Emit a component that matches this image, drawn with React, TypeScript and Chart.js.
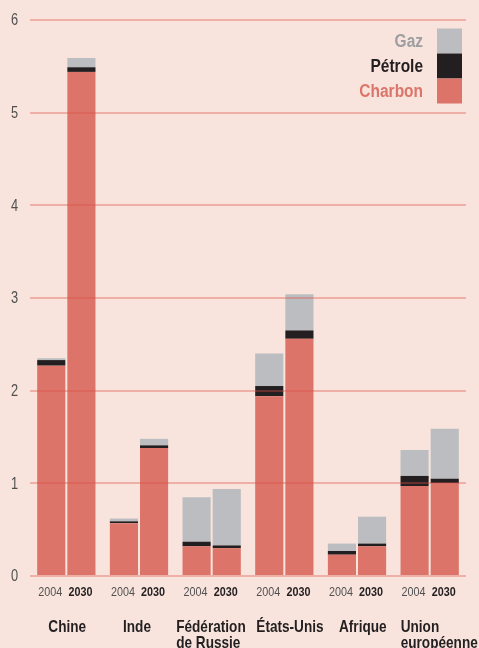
import React, { useEffect, useRef } from "react";
import { Chart, registerables } from "chart.js";

Chart.register(...registerables);

// ---- data ----
const categories: string[][] = [
  ["Chine"],
  ["Inde"],
  ["Fédération", "de Russie"],
  ["États-Unis"],
  ["Afrique"],
  ["Union", "européenne"],
];
const years = ["2004", "2030"];
const charbon2004 = [2.27, 0.57, 0.32, 1.94, 0.23, 0.97];
const petrole2004 = [0.06, 0.02, 0.05, 0.11, 0.04, 0.11];
const gaz2004 = [0.02, 0.03, 0.48, 0.35, 0.08, 0.28];
const charbon2030 = [5.44, 1.38, 0.3, 2.56, 0.32, 1.0];
const petrole2030 = [0.05, 0.03, 0.03, 0.09, 0.03, 0.05];
const gaz2030 = [0.1, 0.07, 0.61, 0.39, 0.29, 0.54];
const legendLabels = ["Gaz", "Pétrole", "Charbon"];
const yTicks = [0, 1, 2, 3, 4, 5, 6];

// ---- style ----
const BG = "#f8e4dd";
const RED = "#dc7469";
const BLACK = "#231f20";
const GRAY = "#bcbdc0";
const GRID = "rgba(220, 80, 70, 0.36)";
const FONT = '"Liberation Sans", Arial, sans-serif';
const NAME_DX = [-18, -16, -35.5, -28, -18, -29];

function txt(
  ctx: CanvasRenderingContext2D,
  s: string,
  x: number,
  y: number,
  align: CanvasTextAlign,
  font: string,
  color: string,
  sx: number
) {
  ctx.save();
  ctx.font = font;
  ctx.fillStyle = color;
  ctx.textAlign = align;
  ctx.textBaseline = "middle";
  ctx.translate(x, y);
  ctx.scale(sx, 1);
  ctx.fillText(s, 0, 0);
  ctx.restore();
}

const labelsPlugin = {
  id: "customLabels",
  afterDraw(chart: any) {
    const ctx = chart.ctx as CanvasRenderingContext2D;
    const area = chart.chartArea;
    const xs = chart.scales.x;
    const ys = chart.scales.y;
    const m04 = chart.getDatasetMeta(0);
    const m30 = chart.getDatasetMeta(3);

    // y tick labels
    yTicks.forEach((v) => {
      txt(ctx, String(v), 18, ys.getPixelForValue(v) + 1, "right", `16px ${FONT}`, "#505050", 0.8);
    });

    categories.forEach((lines, i) => {
      const b04 = m04.data[i];
      const b30 = m30.data[i];
      txt(ctx, years[0], b04.x - 1, area.bottom + 16, "center", `13px ${FONT}`, "#505050", 0.83);
      txt(ctx, years[1], b30.x - 1, area.bottom + 16, "center", `bold 13px ${FONT}`, BLACK, 0.83);
      const cx = xs.getPixelForValue(i);
      lines.forEach((ln, k) => {
        txt(ctx, ln, cx + NAME_DX[i], area.bottom + 51 + k * 16, "left", `bold 17px ${FONT}`, BLACK, 0.8);
      });
    });

    // legend
    const colors = [GRAY, BLACK, RED];
    const textColors = ["#9c9ea1", BLACK, RED];
    const sw = 25;
    const sh = 25;
    const sx = area.right - 4 - sw;
    const sy = area.top + 8.5;
    legendLabels.forEach((lab, k) => {
      ctx.fillStyle = colors[k];
      ctx.fillRect(sx, sy + k * sh, sw, sh);
      txt(ctx, lab, sx - 14, sy + k * sh + sh / 2 + 1, "right", `bold 18px ${FONT}`, textColors[k], 0.86);
    });
  },
};

export default function App() {
  const ref = useRef<HTMLCanvasElement | null>(null);
  useEffect(() => {
    if (!ref.current) return;
    const mk = (label: string, data: number[], stack: string, color: string) => ({
      label,
      data,
      stack,
      backgroundColor: color,
      borderWidth: 0,
    });
    const chart = new Chart(ref.current, {
      type: "bar",
      data: {
        labels: categories.map((c) => c.join(" ")),
        datasets: [
          mk("Charbon 2004", charbon2004, years[0], RED),
          mk("Pétrole 2004", petrole2004, years[0], BLACK),
          mk("Gaz 2004", gaz2004, years[0], GRAY),
          mk("Charbon 2030", charbon2030, years[1], RED),
          mk("Pétrole 2030", petrole2030, years[1], BLACK),
          mk("Gaz 2030", gaz2030, years[1], GRAY),
        ],
      },
      options: {
        animation: false,
        responsive: false,
        devicePixelRatio: 1,
        layout: { padding: { top: 20, bottom: 72, left: 0, right: 13 } },
        plugins: { legend: { display: false }, tooltip: { enabled: false } },
        datasets: { bar: { categoryPercentage: 0.83, barPercentage: 0.933 } },
        scales: {
          x: { display: false, stacked: true },
          y: {
            stacked: true,
            min: yTicks[0],
            max: yTicks[yTicks.length - 1],
            ticks: { stepSize: 1, display: false },
            grid: { color: GRID, lineWidth: 2, drawTicks: false, z: 1 },
            border: { display: false },
            afterFit(s: any) {
              s.width = 30;
            },
          },
        },
      },
      plugins: [labelsPlugin],
    } as any);
    return () => chart.destroy();
  }, []);
  return (
    <div
      style={{
        position: "fixed",
        left: 0,
        top: 0,
        width: 479,
        height: 648,
        background: BG,
      }}
    >
      <canvas ref={ref} width={479} height={648} style={{ display: "block" }} />
    </div>
  );
}
